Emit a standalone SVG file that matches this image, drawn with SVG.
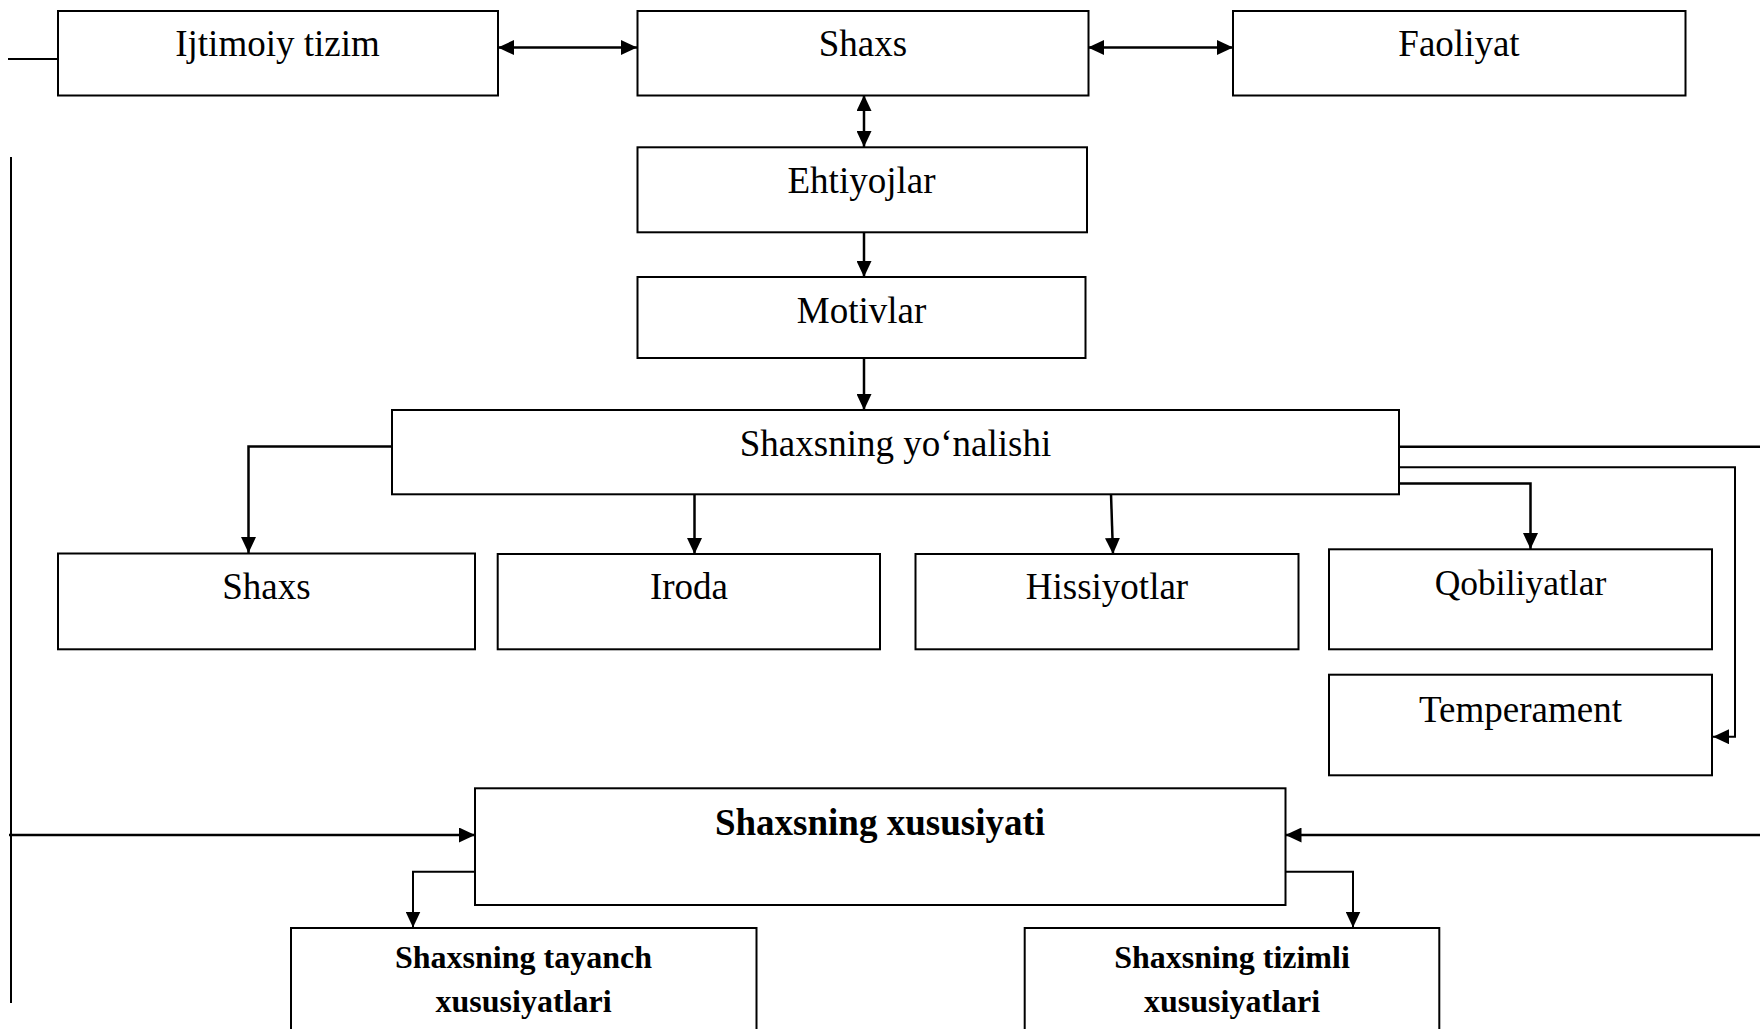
<svg xmlns="http://www.w3.org/2000/svg" width="1760" height="1029" viewBox="0 0 1760 1029">
<style>
.box{fill:#fff;stroke:#000;stroke-width:2}
.t{font-family:"Liberation Serif","Times New Roman",serif;font-size:37px;fill:#000;text-anchor:middle}
.b{font-family:"Liberation Serif","Times New Roman",serif;font-weight:bold;fill:#000;text-anchor:middle}
.c{fill:none;stroke:#000;stroke-width:2.5}
.a{marker-end:url(#ah)}
.d{marker-start:url(#ah);marker-end:url(#ah)}
</style>
<defs>
<marker id="ah" markerUnits="userSpaceOnUse" markerWidth="17" markerHeight="15" refX="16" refY="7.5" orient="auto-start-reverse">
<path d="M0,0 L16,7.5 L0,15 z" fill="#000"/>
</marker>
</defs>
<rect width="1760" height="1029" fill="#fff"/>
<g id="connectors">
<line class="c" x1="8" y1="59" x2="58" y2="59" style="stroke-width:2"/>
<line class="c" x1="11" y1="157" x2="11" y2="1003" style="stroke-width:2"/>
<line class="c d" x1="498" y1="47.5" x2="637" y2="47.5"/>
<line class="c d" x1="1088" y1="47.5" x2="1233" y2="47.5"/>
<line class="c d" x1="864" y1="95" x2="864" y2="147"/>
<line class="c a" x1="864" y1="232" x2="864" y2="277"/>
<line class="c a" x1="864" y1="358" x2="864" y2="410"/>
<polyline class="c a" points="392,446.5 248.5,446.5 248.5,553"/>
<line class="c a" x1="694.5" y1="494" x2="694.5" y2="554"/>
<line class="c a" x1="1111" y1="494" x2="1113" y2="554"/>
<polyline class="c a" points="1399,483.5 1530.5,483.5 1530.5,549"/>
<polyline class="c a" points="1399,467.3 1735,467.3 1735,736.7 1713,736.7" style="stroke-width:2"/>
<line class="c" x1="1399" y1="446.7" x2="1760" y2="446.7"/>
<line class="c a" x1="9" y1="835" x2="475" y2="835"/>
<line class="c a" x1="1760" y1="835" x2="1285.5" y2="835"/>
<polyline class="c a" points="475,871.7 413,871.7 413,927.5" style="stroke-width:2"/>
<polyline class="c a" points="1285.5,871.7 1353,871.7 1353,927.5" style="stroke-width:2"/>
</g>
<g id="ijtimoiy-tizim"><rect class="box" x="58" y="11" width="440" height="84.5"/><text class="t" x="277.5" y="56">Ijtimoiy tizim</text></g>
<g id="shaxs-top"><rect class="box" x="637.5" y="11" width="451" height="84.5"/><text class="t" x="863" y="56">Shaxs</text></g>
<g id="faoliyat"><rect class="box" x="1233" y="11" width="452.5" height="84.5"/><text class="t" x="1459" y="56">Faoliyat</text></g>
<g id="ehtiyojlar"><rect class="box" x="637.5" y="147.3" width="449.5" height="85"/><text class="t" x="861.5" y="193">Ehtiyojlar</text></g>
<g id="motivlar"><rect class="box" x="637.5" y="277" width="448" height="81"/><text class="t" x="861.5" y="323">Motivlar</text></g>
<g id="yonalishi"><rect class="box" x="392" y="410" width="1007" height="84.3"/><text class="t" x="895.5" y="455.5">Shaxsning yoʻnalishi</text></g>
<g id="shaxs"><rect class="box" x="58" y="553.5" width="417" height="95.8"/><text class="t" x="266.5" y="598.5">Shaxs</text></g>
<g id="iroda"><rect class="box" x="497.7" y="554" width="382.3" height="95.3"/><text class="t" x="689" y="598.5">Iroda</text></g>
<g id="hissiyotlar"><rect class="box" x="915.5" y="554" width="383" height="95.3"/><text class="t" x="1107" y="598.5">Hissiyotlar</text></g>
<g id="qobiliyatlar"><rect class="box" x="1329" y="549.3" width="383" height="100"/><text class="t" x="1520.5" y="594.5" style="font-size:35.5px">Qobiliyatlar</text></g>
<g id="temperament"><rect class="box" x="1329" y="674.7" width="383" height="100.6"/><text class="t" x="1520.5" y="722">Temperament</text></g>
<g id="xususiyati"><rect class="box" x="475" y="788.3" width="810.5" height="116.7"/><text class="b" x="880" y="835" style="font-size:37px">Shaxsning xususiyati</text></g>
<g id="tayanch"><rect class="box" x="291" y="928" width="465.5" height="120"/><text class="b" x="523.5" y="968" style="font-size:32px">Shaxsning tayanch</text><text class="b" x="523.5" y="1011.5" style="font-size:32px">xususiyatlari</text></g>
<g id="tizimli"><rect class="box" x="1024.7" y="928" width="414.6" height="120"/><text class="b" x="1232" y="968" style="font-size:32px">Shaxsning tizimli</text><text class="b" x="1232" y="1011.5" style="font-size:32px">xususiyatlari</text></g>
</svg>
